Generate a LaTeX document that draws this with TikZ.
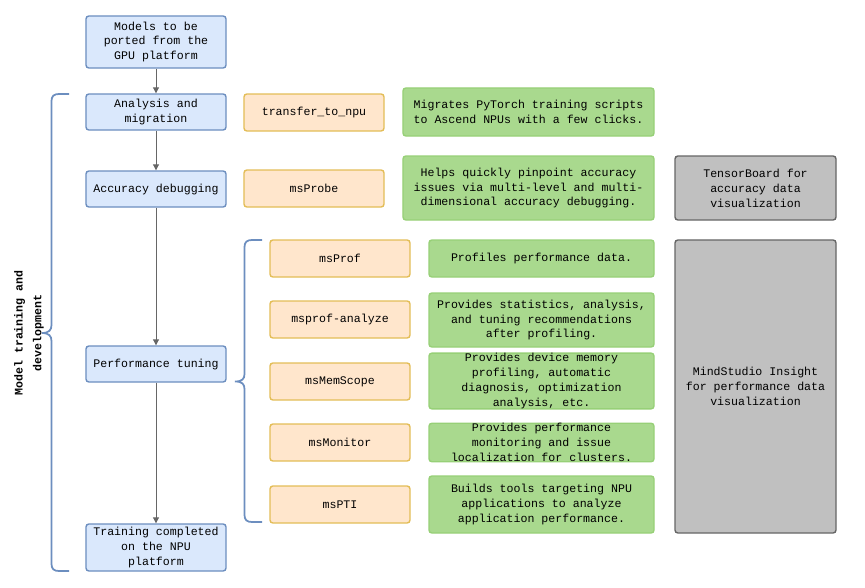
\documentclass[tikz,border=0pt]{standalone}
\usepackage{fontspec}
\setmainfont{Liberation Mono}
\usetikzlibrary{arrows.meta}
\definecolor{blueFill}{HTML}{DAE8FC}
\definecolor{blueLine}{HTML}{6C8EBF}
\definecolor{toolFill}{HTML}{FFE6CC}
\definecolor{toolLine}{HTML}{E3BD57}
\definecolor{descFill}{HTML}{A9D98E}
\definecolor{descLine}{HTML}{97D077}
\definecolor{vizFill}{HTML}{C0C0C0}
\definecolor{vizLine}{HTML}{666666}
\begin{document}
\begin{tikzpicture}[x=0.03cm,y=-0.03cm,
  every node/.style={font=\fontsize{9.9}{12.8}\selectfont, align=center, inner sep=0pt},
  stage/.style={draw=blueLine, fill=blueFill, line width=1.2pt, rounded corners=2.5pt, minimum width=4.2cm},
  tool/.style={draw=toolLine, fill=toolFill, line width=1.2pt, rounded corners=2.5pt, minimum width=4.2cm, minimum height=1.11cm},
  desc/.style={draw=descLine, fill=descFill, line width=1.2pt, rounded corners=2.5pt},
  viz/.style={draw=vizLine, fill=vizFill, line width=1.2pt, rounded corners=2.5pt, minimum width=4.83cm},
  flow/.style={draw=vizLine, line width=0.8pt, -{Triangle[length=5pt,width=5pt]}},
  curly/.style={draw=blueLine, line width=1.5pt}]
\useasboundingbox (0,0) rectangle (865,588);
% stages of the flow
\node[stage, minimum height=1.56cm] (models) at (156,42) {Models to be\\ported from the\\GPU platform};
\node[stage, minimum height=1.08cm] (analysis) at (156,112) {Analysis and\\migration};
\node[stage, minimum height=1.08cm] (accuracy) at (156,189) {Accuracy debugging};
\node[stage, minimum height=1.08cm] (perf) at (156,364) {Performance tuning};
\node[stage, minimum height=1.41cm] (done) at (156,547.5) {Training completed\\on the NPU\\platform};
\draw[flow] (models) -- (analysis);
\draw[flow] (analysis) -- (accuracy);
\draw[flow] (accuracy) -- (perf);
\draw[flow] (perf) -- (done);
% tools
\node[tool] (transfer) at (314,112.5) {transfer\_to\_npu};
\node[tool] (probe) at (314,188.5) {msProbe};
\node[tool] (prof) at (340,258.5) {msProf};
\node[tool] (analyze) at (340,319.5) {msprof-analyze};
\node[tool] (memscope) at (340,381.5) {msMemScope};
\node[tool] (monitor) at (340,442.5) {msMonitor};
\node[tool] (pti) at (340,504.5) {msPTI};
% descriptions
\node[desc, minimum width=7.53cm, minimum height=1.44cm] (transferdesc) at (528.5,112) {Migrates PyTorch training scripts\\to Ascend NPUs with a few clicks.};
\node[desc, minimum width=7.53cm, minimum height=1.92cm] (probedesc) at (528.5,188) {Helps quickly pinpoint accuracy\\issues via multi-level and multi-\\dimensional accuracy debugging.};
\node[desc, minimum width=6.75cm, minimum height=1.11cm] (profdesc) at (541.5,258.5) {Profiles performance data.};
\node[desc, minimum width=6.75cm, minimum height=1.62cm] (analyzedesc) at (541.5,320) {Provides statistics, analysis,\\and tuning recommendations\\after profiling.};
\node[desc, minimum width=6.75cm, minimum height=1.62cm] (memscopedesc) at (541.5,381) {Provides device memory\\profiling, automatic\\diagnosis, optimization\\analysis, etc.};
\node[desc, minimum width=6.75cm, minimum height=1.11cm] (monitordesc) at (541.5,442.5) {Provides performance\\monitoring and issue\\localization for clusters.};
\node[desc, minimum width=6.75cm, minimum height=1.71cm] (ptidesc) at (541.5,504.5) {Builds tools targeting NPU\\applications to analyze\\application performance.};
% visualization
\node[viz, minimum height=1.92cm] (tensorboard) at (755.5,188) {TensorBoard for\\accuracy data\\visualization};
\node[viz, minimum height=8.79cm] (insight) at (755.5,386.5) {MindStudio Insight\\for performance data\\visualization};
% braces
\draw[curly] (69,94) -- (59,94) .. controls (54,94) and (51.5,96) .. (51.5,101) -- (51.5,325)
  .. controls (51.5,330) and (49,333) .. (42,333) .. controls (49,333) and (51.5,336) .. (51.5,341)
  -- (51.5,564) .. controls (51.5,569) and (54,571) .. (59,571) -- (69,571);
\draw[curly] (262,240) -- (252,240) .. controls (247,240) and (244.5,242) .. (244.5,247) -- (244.5,374)
  .. controls (244.5,379) and (242,381.5) .. (235,381.5) .. controls (242,381.5) and (244.5,384) .. (244.5,389)
  -- (244.5,515) .. controls (244.5,520) and (247,522) .. (252,522) -- (262,522);
\node[rotate=90, font=\fontsize{9.9}{16}\selectfont\bfseries] (phase) at (29,333) {Model training and\\development};
\end{tikzpicture}
\end{document}
